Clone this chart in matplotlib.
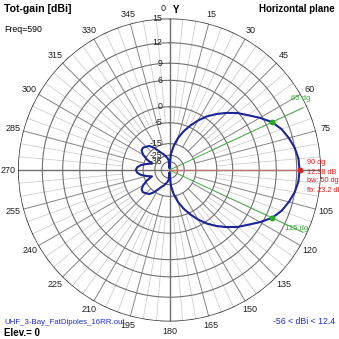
import numpy as np
import matplotlib.pyplot as plt

plt.rcParams['font.family'] = ['Liberation Sans', 'DejaVu Sans']

# --- horizontal-plane pattern, total gain in dBi every 5 deg (clockwise from Y) ---
azimuth = np.arange(0, 360, 5)
gain_dbi = [
    -56.0, -24.0, -16.0, -11.0, -7.4, -4.4, -1.7, 0.6, 2.5,         # 0-40
    4.2, 5.8, 7.1, 8.6, 10.0, 10.9, 11.5, 12.0, 12.3,               # 45-85
    12.38, 12.3, 12.0, 11.5, 10.9, 10.0, 8.6, 7.1, 5.8,             # 90-130
    4.2, 2.5, 0.6, -1.7, -4.4, -7.4, -11.0, -16.0, -24.0,           # 135-175
    -56.0, -32.0, -28.0, -26.0, -23.0, -21.0, -18.0, -14.5, -12.0,  # 180-220
    -11.2, -10.3, -10.6, -12.5, -16.0, -21.0, -17.0, -13.5, -11.5,  # 225-265
    -10.82, -11.5, -13.5, -17.0, -21.0, -16.0, -12.5, -10.6, -10.3, # 270-310
    -11.2, -12.0, -14.5, -18.0, -21.0, -23.0, -26.0, -28.0, -32.0,  # 315-355
]

ring_db = [15, 12, 9, 6, 0, -5, -15, -25, -35]
ring_labels = ['15', '12', '9', '6', '0', '-5', '-15', '-25', '-35']
angle_ticks = [0, 15, 30, 45, 60, 75, 105, 120, 135, 150, 165, 180,
               195, 210, 225, 240, 255, 270, 285, 300, 315, 330, 345]

peak_az = 90
peak_gain = 12.38
beam_edges = [65, 115]
beamwidth = 50
front_back = 23.2
gain_min, gain_max = -56, 12.4


def arrl(db):
    # ARRL log scale: 0.89 per 2 dB down from the outer ring (15 dBi)
    return 0.89 ** ((15 - np.asarray(db, dtype=float)) / 2)


W = H = 339
fig = plt.figure(figsize=(W / 100, H / 100), dpi=100)
cx, cy, R = 169.5, 169.0, 151.5
ax = fig.add_axes([(cx - R) / W, (cy - R) / H, 2 * R / W, 2 * R / H],
                  projection='polar')
ax.set_theta_zero_location('N')
ax.set_theta_direction(-1)
ax.set_ylim(0, 1)
ax.axis('off')

# grid: 5 deg light spokes, 15 deg darker ones, main axes darkest
full = np.linspace(0, 2 * np.pi, 721)
for a in range(0, 360, 5):
    t = np.radians(a)
    if a % 90 == 0:
        ax.plot([t, t], [0, 1], color='#707070', lw=1.0, zorder=2)
    elif a % 15 == 0:
        ax.plot([t, t], [arrl(-15), 1], color='#858585', lw=0.7, zorder=1)
    else:
        ax.plot([t, t], [arrl(-5), 1], color='#cfcfcf', lw=0.6, zorder=1)
for db in ring_db[1:]:
    ax.plot(full, np.full_like(full, arrl(db)), color='#707070', lw=0.8, zorder=1)
ax.plot(full, np.ones_like(full), color='#303030', lw=1.1, zorder=2)

# ring labels along the Y axis
for db, lab in zip(ring_db, ring_labels):
    y = cy + R * arrl(db)
    fig.text((cx - 7) / W, y / H, lab, ha='right', va='center',
             fontsize=6.3, color='#202020')

# angle labels
for a in angle_ticks:
    t = np.radians(a)
    x = cx + (R + 10) * np.sin(t)
    y = cy + (R + 10) * np.cos(t)
    if a == 0:
        x -= 6
    fig.text(x / W, y / H, str(a), ha='center', va='center',
             fontsize=6.5, color='#202020')
fig.text((cx + 7) / W, (H - 10) / H, 'Y', ha='center', va='center',
         fontsize=7, fontweight='bold')

# beamwidth markers and peak marker
az = np.append(azimuth, 360)
g = np.append(gain_dbi, gain_dbi[0])
for b in beam_edges:
    t = np.radians(b)
    ax.plot([t, t], [0, 0.97], color='#44aa44', lw=0.7, zorder=3)
    gb = gain_dbi[list(azimuth).index(b)]
    ax.plot([t], [arrl(gb)], 'o', color='#22aa22', ms=3.2, zorder=5)
tp = np.radians(peak_az)
ax.plot([tp, tp], [0, arrl(peak_gain)], color='#c07070', lw=0.8, zorder=3)
arc = np.radians(np.linspace(60, 120, 30))
ax.plot(arc, np.full_like(arc, 0.05), color='#d08060', lw=0.7, zorder=3)
ax.plot([tp], [arrl(peak_gain)], 'o', color='#dd2222', ms=3.2, zorder=5)

# pattern
ax.plot(np.radians(az), arrl(g), color='#1a2496', lw=1.5, zorder=4)

# beam annotations
fig.text(291 / W, (H - 98) / H, f'{beam_edges[0]} dg', fontsize=5.6,
         color='#33aa33', va='center')
fig.text(285 / W, (H - 228) / H, f'{beam_edges[1]} dg', fontsize=5.6,
         color='#33aa33', va='center')
red = '#e02020'
for i, s in enumerate([f'{peak_az} dg', f'{peak_gain} dB',
                       f'bw: {beamwidth} dg', f'fb: {front_back} dB']):
    fig.text(307 / W, (H - 163 - 9 * i) / H, s, fontsize=5.3, color=red,
             va='center')

# header and footer text
fig.text(4 / W, (H - 9) / H, 'Tot-gain [dBi]', fontsize=7.6, fontweight='bold',
         va='center')
fig.text(4 / W, (H - 29) / H, 'Freq=590', fontsize=6.3, va='center')
fig.text(335 / W, (H - 9) / H, 'Horizontal plane', fontsize=7,
         fontweight='bold', va='center', ha='right')
fig.text(4 / W, (H - 322) / H, 'UHF_3-Bay_FatDipoles_16RR.out', fontsize=5.7,
         color='#2030c0', va='center')
fig.text(4 / W, (H - 333) / H, 'Elev.= 0', fontsize=7, fontweight='bold',
         va='center')
fig.text(335 / W, (H - 322) / H, f'{gain_min} < dBi < {gain_max}',
         fontsize=6.3, color='#2030c0', va='center', ha='right')

fig.savefig('out.png', dpi=100, facecolor='white')
